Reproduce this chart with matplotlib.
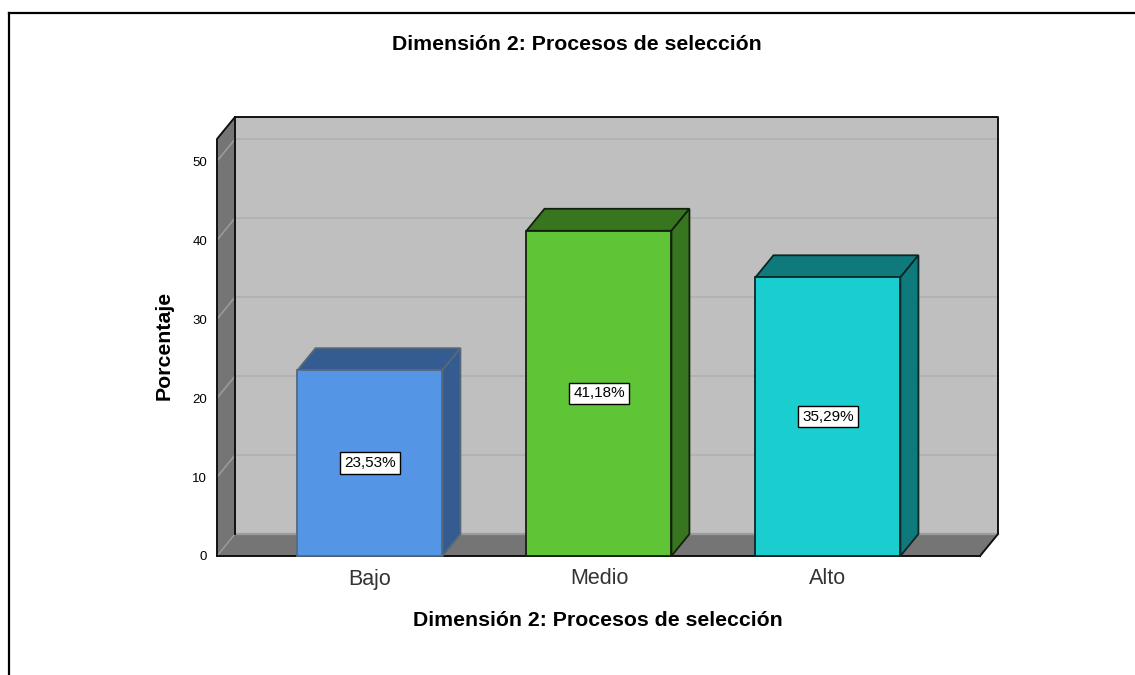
import matplotlib.pyplot as plt
from matplotlib.lines import Line2D
from matplotlib.patches import Polygon

plt.rcParams['font.family'] = ['Liberation Sans', 'DejaVu Sans']

categories = ['Bajo', 'Medio', 'Alto']
values = [23.53, 41.18, 35.29]
value_labels = ['23,53%', '41,18%', '35,29%']
front_colors = ['#5595e6', '#5fc536', '#1acdcf']
top_colors = ['#345c91', '#38751f', '#0f7a7b']
edge_colors = ['#56687c', '#14200f', '#0a2626']
y_ticks = [0, 10, 20, 30, 40, 50]
title = 'Dimensión 2: Procesos de selección'

W, H = 1135, 675
fig = plt.figure(figsize=(W / 100, H / 100), dpi=100)

# front plane of the 3d box, in pixels
left, right, top, bottom = 217, 980, 139, 556
ax = fig.add_axes([left / W, 1 - bottom / H, (right - left) / W, (bottom - top) / H])
ymax = 52.8
xmin = -0.668
xmax = 2.664
ax.set_xlim(xmin, xmax)
ax.set_ylim(0, ymax)
ax.patch.set_visible(False)
for s in ax.spines.values():
    s.set_visible(False)

dx = 18 / 229
dy = 22 / 7.9
bw = 0.633


def poly(pts, fc, ec='none', lw=1.3, z=2):
    ax.add_patch(Polygon(pts, closed=True, facecolor=fc, edgecolor=ec, linewidth=lw,
                         zorder=z, clip_on=False, joinstyle='miter'))


def edge(xs, ys, color='#111111', lw=1.4, z=1.8):
    ax.plot(xs, ys, color=color, lw=lw, zorder=z, clip_on=False, solid_capstyle='projecting')


# back wall, side wall, floor
poly([(xmin + dx, dy), (xmax + dx, dy), (xmax + dx, ymax + dy), (xmin + dx, ymax + dy)], '#bfbfbf', z=1)
poly([(xmin, 0), (xmin + dx, dy), (xmin + dx, ymax + dy), (xmin, ymax)], '#757575', z=1)
poly([(xmin, 0), (xmax, 0), (xmax + dx, dy), (xmin + dx, dy)], '#757575', z=1.5)

for t in y_ticks[1:]:
    ax.plot([xmin + dx, xmax + dx], [t + dy, t + dy], color='#b0b0b0', lw=1.2, zorder=1.2, clip_on=False)
    ax.plot([xmin, xmin + dx], [t, t + dy], color='#9a9a9a', lw=1.2, zorder=1.2, clip_on=False)

ax.plot([xmin + dx, xmax + dx], [dy, dy], color='#9c9c9c', lw=1.6, zorder=1.6, clip_on=False)
ax.plot([xmin, xmin + dx], [0, dy], color='#9c9c9c', lw=1.0, zorder=1.7, clip_on=False)

edge([xmin, xmin, xmin + dx, xmax + dx, xmax + dx, xmax],
     [0, ymax, ymax + dy, ymax + dy, dy, 0])
edge([xmin + dx, xmin + dx], [dy, ymax + dy])
edge([xmin, xmax], [0, 0], z=1.9)

for i, v in enumerate(values):
    x0, x1 = i - bw / 2, i + bw / 2
    ec = edge_colors[i]
    poly([(x0, v), (x1, v), (x1 + dx, v + dy), (x0 + dx, v + dy)], top_colors[i], ec=ec, z=3)
    poly([(x1, 0), (x1 + dx, dy), (x1 + dx, v + dy), (x1, v)], top_colors[i], ec=ec, z=3)
    poly([(x0, 0), (x1, 0), (x1, v), (x0, v)], front_colors[i], ec=ec, z=4)
    ax.text(i, v / 2, value_labels[i], ha='center', va='center', fontsize=11, color='black', zorder=5,
            bbox=dict(boxstyle='square,pad=0.25', facecolor='white', edgecolor='black', linewidth=1))

ax.set_xticks(range(len(categories)))
ax.set_xticklabels(categories, fontsize=15.5, color='#333333')
ax.set_yticks(y_ticks)
ax.tick_params(axis='x', length=0, pad=9)
ax.tick_params(axis='y', length=0, labelsize=9.5, pad=7)

fig.text(577 / W, 1 - 44 / H, title, ha='center', va='center', fontsize=15.3, fontweight='bold')
fig.text(598 / W, 1 - 620 / H, title, ha='center', va='center', fontsize=15.3, fontweight='bold')
fig.text(164 / W, 1 - 345 / H, 'Porcentaje', ha='center', va='center', rotation=90, fontsize=15.3, fontweight='bold')

# outer frame of the screenshot
fig.add_artist(Line2D([9 / W, 9 / W], [0, 1 - 13 / H], color='black', lw=1.6))
fig.add_artist(Line2D([9 / W, 1], [1 - 13 / H, 1 - 13 / H], color='black', lw=1.6))

fig.savefig('out.png', dpi=100)
